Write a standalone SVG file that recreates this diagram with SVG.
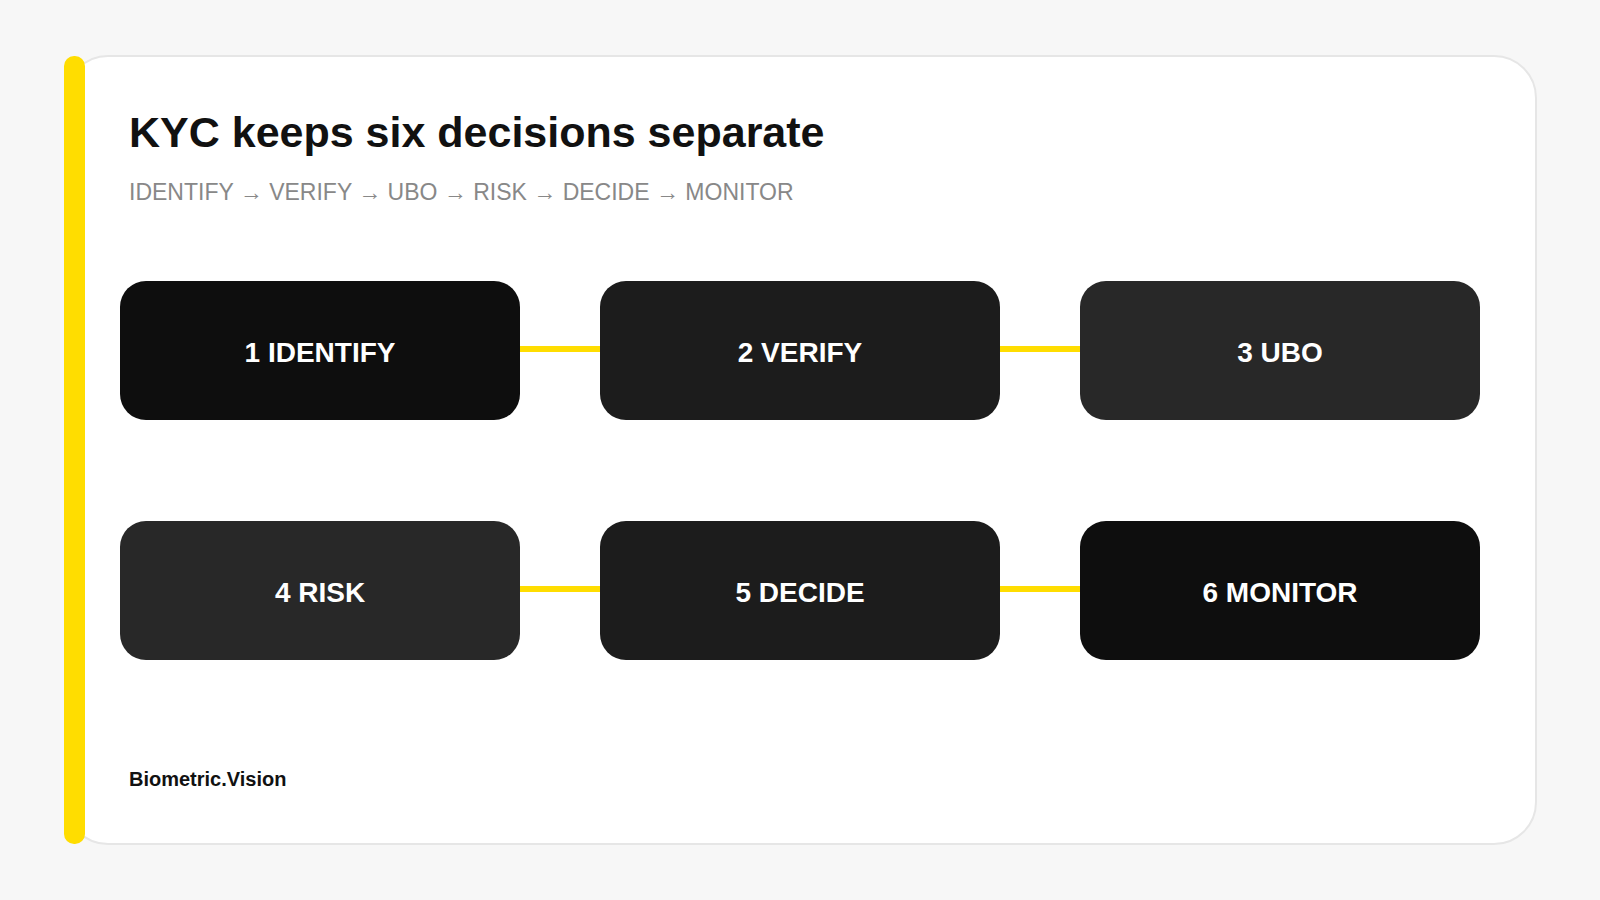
<svg xmlns="http://www.w3.org/2000/svg" width="1600" height="900" viewBox="0 0 1600 900">
<style>
.node text{font-family:"Liberation Sans",Arial,sans-serif;font-weight:bold;font-size:28px;fill:#fff;text-anchor:middle;dominant-baseline:central}
.conn line{stroke:#FFDD00;stroke-width:6}
</style>
<rect width="1600" height="900" fill="#f7f7f7"/>
<rect x="66" y="56" width="1470" height="788" rx="42" fill="#fff" stroke="#e6e6e6" stroke-width="2"/>
<rect x="64" y="56" width="21" height="788" rx="10" fill="#FFDD00"/>
<text x="129" y="147" font-family="Liberation Sans,Arial,sans-serif" font-weight="bold" font-size="43" fill="#111">KYC keeps six decisions separate</text>
<text x="129" y="200" font-family="Liberation Sans,Arial,sans-serif" font-size="23" fill="#888">IDENTIFY → VERIFY → UBO → RISK → DECIDE → MONITOR</text>
<g class="conn">
<line x1="519" y1="349" x2="600" y2="349"/>
<line x1="999" y1="349" x2="1080" y2="349"/>
<line x1="519" y1="589" x2="600" y2="589"/>
<line x1="999" y1="589" x2="1080" y2="589"/>
</g>
<g id="n1" class="node"><rect x="120" y="281" width="400" height="139" rx="26" fill="#0e0e0e"/><text x="320" y="352">1 IDENTIFY</text></g>
<g id="n2" class="node"><rect x="600" y="281" width="400" height="139" rx="26" fill="#1c1c1c"/><text x="800" y="352">2 VERIFY</text></g>
<g id="n3" class="node"><rect x="1080" y="281" width="400" height="139" rx="26" fill="#282828"/><text x="1280" y="352">3 UBO</text></g>
<g id="n4" class="node"><rect x="120" y="521" width="400" height="139" rx="26" fill="#282828"/><text x="320" y="592">4 RISK</text></g>
<g id="n5" class="node"><rect x="600" y="521" width="400" height="139" rx="26" fill="#1c1c1c"/><text x="800" y="592">5 DECIDE</text></g>
<g id="n6" class="node"><rect x="1080" y="521" width="400" height="139" rx="26" fill="#0e0e0e"/><text x="1280" y="592">6 MONITOR</text></g>
<text x="129" y="786" font-family="Liberation Sans,Arial,sans-serif" font-weight="bold" font-size="20" fill="#111">Biometric.Vision</text>
</svg>
